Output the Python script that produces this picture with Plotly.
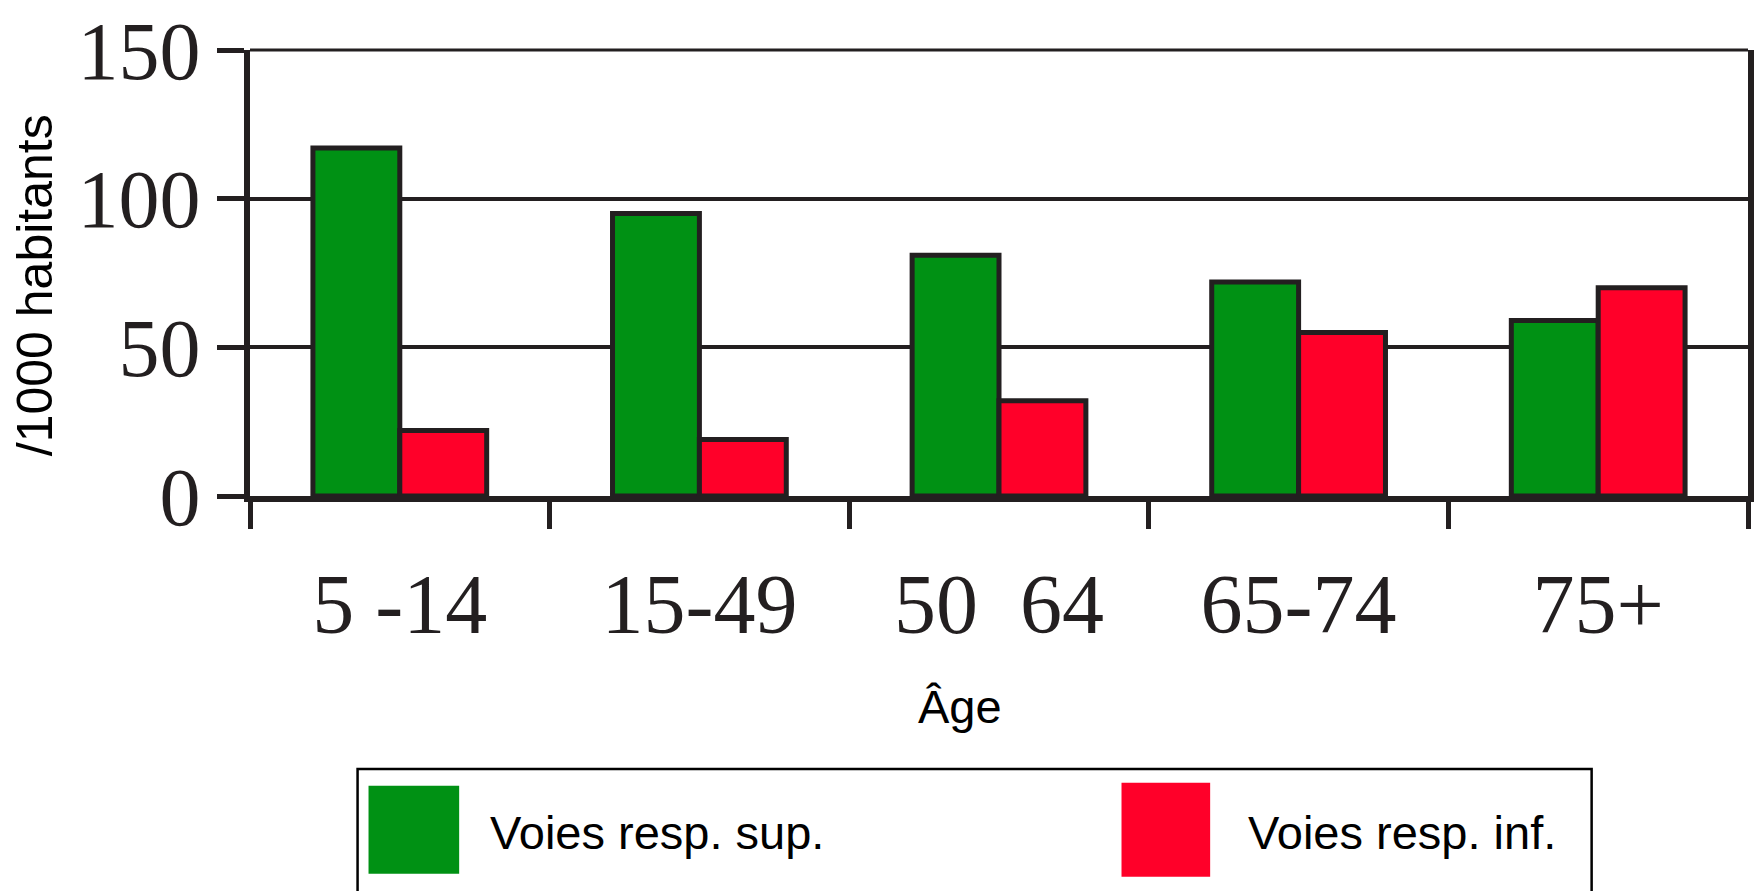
import plotly.graph_objects as go

categories = ["5\u00a0-14", "15-49", "50\u00a0\u00a064", "65-74", "75+"]
sup_values = [117, 95, 81, 72, 59]
inf_values = [22, 19, 32, 55, 70]
series_names = ["Voies resp. sup.", "Voies resp. inf."]
y_ticks = [0, 50, 100, 150]

GREEN = "#009114"
RED = "#ff0029"
DARK = "#231f20"

W, H = 1760, 891
L, R, T, B = 250, 6, 45, 395
pw, ph = W - L - R, H - T - B

def px_x(x):
    return (x - L) / pw

def px_y(y):
    return (H - B - y) / ph

fig = go.Figure()
fig.add_trace(go.Bar(x=categories, y=sup_values, name=series_names[0],
                     marker=dict(color=GREEN, line=dict(color=DARK, width=5))))
fig.add_trace(go.Bar(x=categories, y=inf_values, name=series_names[1],
                     marker=dict(color=RED, line=dict(color=DARK, width=5))))

fig.update_layout(
    width=W, height=H,
    margin=dict(l=L, r=R, t=T, b=B),
    paper_bgcolor="white", plot_bgcolor="white",
    barmode="group", bargap=0.42, bargroupgap=0,
    showlegend=False,
    xaxis=dict(
        type="category", range=[-0.5, 4.5],
        showline=True, linecolor=DARK, linewidth=6,
        ticks="outside", tickson="boundaries", ticklen=27, tickwidth=5, tickcolor=DARK,
        tickfont=dict(family="Liberation Serif", size=84, color=DARK),
        ticklabelstandoff=30,
        showgrid=False,
    ),
    yaxis=dict(
        range=[0, 150], tickvals=y_ticks,
        showline=True, linecolor=DARK, linewidth=6, mirror=True,
        ticks="outside", ticklen=27, tickwidth=5, tickcolor=DARK,
        tickfont=dict(family="Liberation Serif", size=82, color=DARK),
        ticklabelstandoff=0,
        showgrid=True, gridcolor=DARK, gridwidth=4,
        zeroline=False,
    ),
)

# top frame line (gridline at 150)
fig.add_shape(type="line", xref="paper", yref="paper", x0=0, x1=1, y0=1, y1=1,
              line=dict(color=DARK, width=3))

ann_font = dict(family="Liberation Sans, Arial", size=47, color="black")
fig.add_annotation(text="/1000 habitants", xref="paper", yref="paper",
                   x=px_x(34), y=px_y(283), textangle=-90, showarrow=False,
                   xanchor="center", yanchor="middle",
                   font=dict(family="Liberation Sans, Arial", size=50, color="black"))
fig.add_annotation(text="Âge", xref="paper", yref="paper",
                   x=px_x(963), y=px_y(709), showarrow=False,
                   xanchor="center", yanchor="middle", font=ann_font)

# Legend box
fig.add_shape(type="rect", xref="paper", yref="paper",
              x0=px_x(358), x1=px_x(1597), y0=px_y(772), y1=px_y(905),
              line=dict(color="black", width=2.5), fillcolor="rgba(0,0,0,0)")
fig.add_shape(type="rect", xref="paper", yref="paper",
              x0=px_x(369), x1=px_x(460), y0=px_y(789), y1=px_y(878),
              line=dict(width=0), fillcolor=GREEN)
fig.add_shape(type="rect", xref="paper", yref="paper",
              x0=px_x(1125), x1=px_x(1214), y0=px_y(786), y1=px_y(881),
              line=dict(width=0), fillcolor=RED)
fig.add_annotation(text=series_names[0], xref="paper", yref="paper",
                   x=px_x(489), y=px_y(836), showarrow=False,
                   xanchor="left", yanchor="middle", font=ann_font)
fig.add_annotation(text=series_names[1], xref="paper", yref="paper",
                   x=px_x(1250), y=px_y(836), showarrow=False,
                   xanchor="left", yanchor="middle", font=ann_font)

fig.write_html("out.html")
